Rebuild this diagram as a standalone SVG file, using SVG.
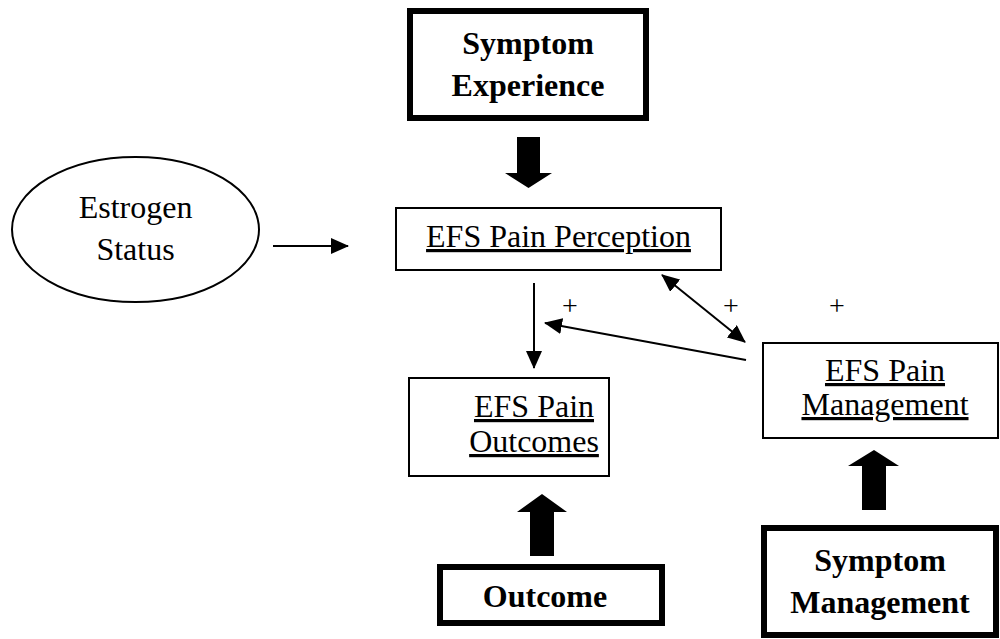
<svg xmlns="http://www.w3.org/2000/svg" width="1000" height="639" viewBox="0 0 1000 639">
  <style>
    .t { font-family: "Liberation Serif", "Times New Roman", serif; font-size: 32px; fill: #000; text-anchor: middle; }
    .b { font-weight: bold; }
    .u { text-decoration: underline; }
    .thin { fill: #fff; stroke: #000; stroke-width: 2; }
    .thick { fill: #fff; stroke: #000; stroke-width: 6; }
    .conn { stroke: #000; stroke-width: 2; fill: none; }
    .big { fill: #000; stroke: none; }
    .plus { font-family: "Liberation Serif", "Times New Roman", serif; font-size: 28px; fill: #000; text-anchor: middle; }
  </style>
  <defs>
    <marker id="ah" markerUnits="userSpaceOnUse" markerWidth="18" markerHeight="16" refX="17" refY="8" orient="auto-start-reverse">
      <path d="M0,0 L18,8 L0,16 Z" fill="#000"/>
    </marker>
  </defs>
  <rect width="1000" height="639" fill="#fff"/>

  <g id="symptom-experience">
    <rect class="thick" x="410" y="11" width="236" height="107"/>
    <text class="t b" x="528" y="54">Symptom</text>
    <text class="t b" x="528" y="96">Experience</text>
  </g>

  <g id="estrogen-status">
    <ellipse class="thin" cx="135.5" cy="229.5" rx="123.5" ry="72.5"/>
    <text class="t" x="135.5" y="218">Estrogen</text>
    <text class="t" x="135.5" y="260">Status</text>
  </g>

  <g id="efs-pain-perception">
    <rect class="thin" x="396" y="208" width="325" height="62"/>
    <text class="t u" x="558.5" y="247">EFS Pain Perception</text>
  </g>

  <g id="efs-pain-outcomes">
    <rect class="thin" x="409" y="378" width="200" height="98"/>
    <text class="t u" x="534" y="417">EFS Pain</text>
    <text class="t u" x="534" y="452">Outcomes</text>
  </g>

  <g id="efs-pain-management">
    <rect class="thin" x="763" y="343" width="235" height="95"/>
    <text class="t u" x="885" y="381">EFS Pain</text>
    <text class="t u" x="885" y="415">Management</text>
  </g>

  <g id="outcome">
    <rect class="thick" x="440" y="567" width="222" height="56"/>
    <text class="t b" x="545" y="607">Outcome</text>
  </g>

  <g id="symptom-management">
    <rect class="thick" x="764" y="528" width="232" height="107"/>
    <text class="t b" x="880" y="571">Symptom</text>
    <text class="t b" x="880" y="613">Management</text>
  </g>

  <g id="connectors">
    <polygon class="big" points="517,137 540,137 540,173 552,173 528.5,188 505,173 517,173"/>
    <polygon class="big" points="530,556 554,556 554,512 567,512 542,494 517,512 530,512"/>
    <polygon class="big" points="862,510 886,510 886,466 899,466 874,450 848,466 862,466"/>
    <line class="conn" x1="273" y1="246" x2="348" y2="246" marker-end="url(#ah)"/>
    <line class="conn" x1="534" y1="283" x2="534" y2="368" marker-end="url(#ah)"/>
    <line class="conn" x1="746" y1="360" x2="545" y2="323" marker-end="url(#ah)"/>
    <line class="conn" x1="662" y1="275" x2="745" y2="342" marker-start="url(#ah)" marker-end="url(#ah)"/>
  </g>

  <g id="labels">
    <text class="plus" x="570" y="315">+</text>
    <text class="plus" x="731" y="315">+</text>
    <text class="plus" x="837" y="315">+</text>
  </g>
</svg>
